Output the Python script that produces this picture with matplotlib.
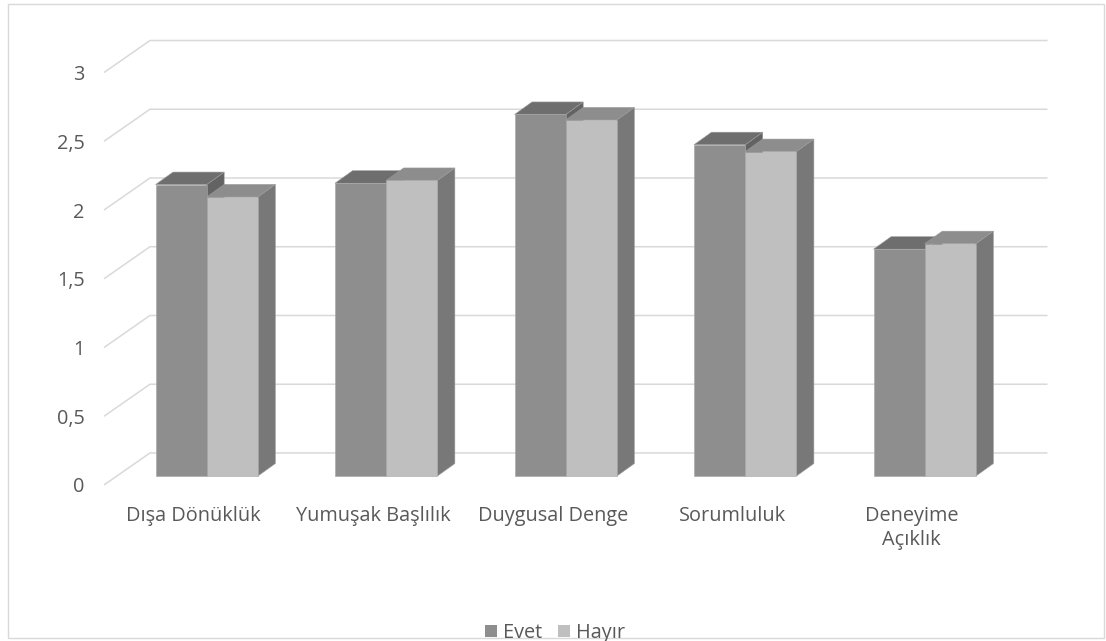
import matplotlib
matplotlib.use("Agg")
import matplotlib.pyplot as plt
from matplotlib.patches import Polygon, Patch, Rectangle

# Survey answers per personality trait
categories = ["Dışa Dönüklük", "Yumuşak Başlılık", "Duygusal Denge", "Sorumluluk", "Deneyime\nAçıklık"]
series_names = ["Evet", "Hayır"]
evet = [2.12, 2.13, 2.63, 2.41, 1.65]
hayir = [2.03, 2.15, 2.59, 2.36, 1.69]
y_ticks = [0, 0.5, 1, 1.5, 2, 2.5, 3]
y_tick_labels = ["0", "0,5", "1", "1,5", "2", "2,5", "3"]

plt.rcParams['font.family'] = ['Open Sans', 'DejaVu Sans']
text_color = '#595959'
grid_color = '#d9d9d9'
fs = 14.3

# front, top, side shades for each series
shades = {
    "Evet": ('#8e8e8e', '#6e6e6e', '#636363'),
    "Hayır": ('#bfbfbf', '#8d8d8d', '#787878'),
}

# oblique depth of the floor, offset of the bar row, depth of one bar (data units)
floor_dx, floor_dy = 0.256, 0.233
row_dx, row_dy = 0.072, 0.065
bar_dx, bar_dy = 0.0975, 0.091
bar_w = 0.285

W, H = 1106, 641
fig = plt.figure(figsize=(W / 100, H / 100), dpi=100)
ax = fig.add_axes([104 / W, (H - 485) / H, 943.5 / W, 444.5 / H])
ax.set_xlim(-0.5, len(categories) - 0.5 + floor_dx)
ax.set_ylim(0, 3 + floor_dy)
for s in ax.spines.values():
    s.set_visible(False)

# back wall grid with the slanted floor lines
x0, x1 = -0.5, len(categories) - 0.5
for v in y_ticks:
    ax.plot([x0, x0 + floor_dx, x1 + floor_dx], [v, v + floor_dy, v + floor_dy],
            color=grid_color, lw=1.1, zorder=1, clip_on=False, solid_capstyle='butt')

ax.set_yticks(y_ticks)
ax.set_yticklabels(y_tick_labels)
ax.set_xticks(range(len(categories)))
ax.set_xticklabels(categories, linespacing=1.3)
ax.tick_params(axis='both', length=0, labelsize=fs, labelcolor=text_color)
ax.tick_params(axis='y', pad=14)
ax.tick_params(axis='x', pad=15)

# draw the pseudo 3d bars, left series first so the right one covers its side
z = 2
for i in range(len(categories)):
    for k, (name, vals) in enumerate(zip(series_names, [evet, hayir])):
        front, top, side = shades[name]
        v = vals[i]
        left = i + row_dx - bar_w + k * bar_w
        right = left + bar_w
        base = row_dy
        side_poly = Polygon([(right, base), (right + bar_dx, base + bar_dy),
                             (right + bar_dx, base + v + bar_dy), (right, base + v)],
                            closed=True, facecolor=side, edgecolor='#9a9a9a', lw=0.4, zorder=z)
        top_poly = Polygon([(left, base + v), (right, base + v),
                            (right + bar_dx, base + v + bar_dy), (left + bar_dx, base + v + bar_dy)],
                           closed=True, facecolor=top, edgecolor='#9a9a9a', lw=0.4, zorder=z)
        ax.add_patch(side_poly)
        ax.add_patch(top_poly)
        ax.bar(left, v, width=bar_w, bottom=base, align='edge', color=front,
               edgecolor='#a5a5a5', linewidth=0.4, zorder=z + 1)
        z += 2

# legend under the plot
handles = [Patch(facecolor=shades[n][0], edgecolor='none', label=n) for n in series_names]
fig.legend(handles=handles, loc='center', bbox_to_anchor=(555 / W, (H - 633) / H), ncol=2,
           frameon=False, fontsize=fs, labelcolor=text_color, handlelength=0.6,
           handleheight=0.6, handletextpad=0.3, columnspacing=0.8)

# chart border
fig.patches.append(Rectangle((8 / W, 3 / H), 1096 / W, 634 / H, transform=fig.transFigure,
                             fill=False, edgecolor=grid_color, lw=1.0))

fig.savefig("out.png", dpi=100)
